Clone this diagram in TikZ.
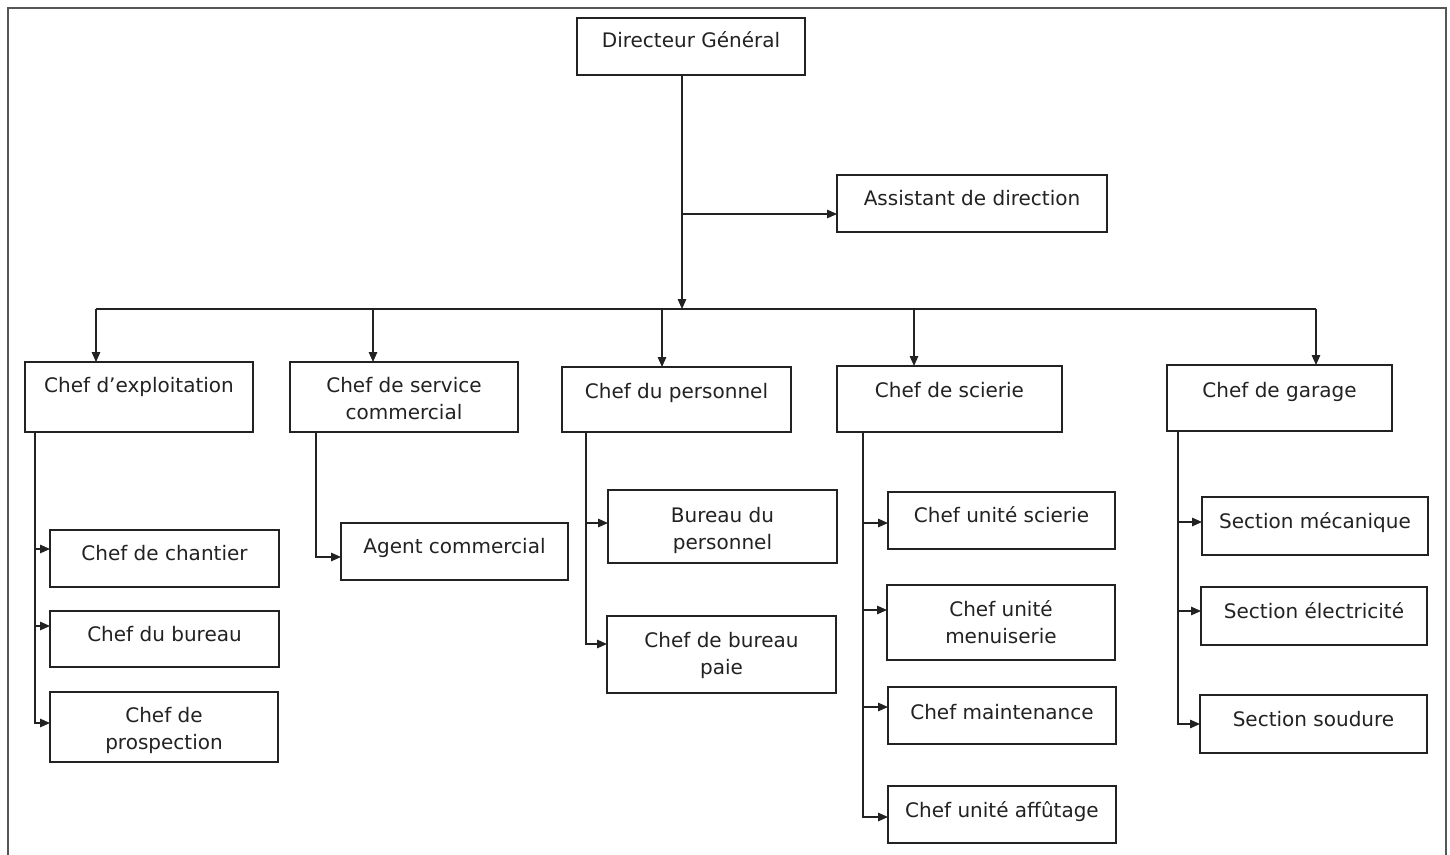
\documentclass[tikz,border=0pt]{standalone}
\usepackage{fontspec}
\setmainfont{DejaVu Sans}
\usetikzlibrary{arrows.meta}
\definecolor{ink}{HTML}{222222}
\definecolor{frame}{HTML}{555555}
\tikzset{
  box/.style={draw=ink, line width=1.5pt, inner sep=0pt, outer sep=0pt},
  txt/.style={text=ink, inner sep=0pt, font=\fontsize{20}{27}\selectfont},
  conn/.style={draw=ink, line width=1.4pt},
  arr/.style={conn, -{Triangle[length=10pt,width=8.5pt]}},
}
\newcommand\orgbox[7]{%
  \node[box, minimum width={(#4-#2)*1pt}, minimum height={(#5-#3)*1pt}] (#1) at ({(#2+#4)/2},{-(#3+#5)/2}) {};
  \node[txt, anchor=base] (#1-t) at ({(#2+#4)/2},{-#6}) {#7};
}
\newcommand\two[2]{\begin{tabular}[t]{@{}c@{}}#1\\#2\end{tabular}}
\begin{document}
\begin{tikzpicture}[x=1pt,y=1pt]
\useasboundingbox (0,0) rectangle (1450,-854);
\fill[white] (0,0) rectangle (1450,-854);
\draw[frame, line width=1.8pt] (8,-870) -- (8,-8) -- (1446,-8) -- (1446,-870);

\orgbox{dg}{577}{18}{805}{75}{47}{Directeur Général}
\orgbox{ad}{837}{175}{1107}{232}{205}{Assistant de direction}

\orgbox{ce}{25}{362}{253}{432}{392}{Chef d’exploitation}
\orgbox{csc}{290}{362}{518}{432}{392}{\two{Chef de service}{commercial}}
\orgbox{cp}{562}{367}{791}{432}{398}{Chef du personnel}
\orgbox{cs}{837}{366}{1062}{432}{397}{Chef de scierie}
\orgbox{cg}{1167}{365}{1392}{431}{397}{Chef de garage}

\orgbox{cc}{50}{530}{279}{587}{560}{Chef de chantier}
\orgbox{cb}{50}{611}{279}{667}{641}{Chef du bureau}
\orgbox{cpr}{50}{692}{278}{762}{722}{\two{Chef de}{prospection}}

\orgbox{ac}{341}{523}{568}{580}{553}{Agent commercial}

\orgbox{bp}{608}{490}{837}{563}{522}{\two{Bureau du}{personnel}}
\orgbox{bpa}{607}{616}{836}{693}{647}{\two{Chef de bureau}{paie}}

\orgbox{us}{888}{492}{1115}{549}{522}{Chef unité scierie}
\orgbox{um}{887}{585}{1115}{660}{616}{\two{Chef unité}{menuiserie}}
\orgbox{cm}{888}{687}{1116}{744}{719}{Chef maintenance}
\orgbox{ua}{888}{786}{1116}{843}{817}{Chef unité affûtage}

\orgbox{sm}{1202}{497}{1428}{555}{528}{Section mécanique}
\orgbox{se}{1201}{587}{1427}{645}{618}{Section électricité}
\orgbox{ss}{1200}{695}{1427}{753}{726}{Section soudure}

% main trunk
\coordinate (bus) at (682,-309);
\coordinate (ja) at (682,-214);
\draw[arr] (bus |- dg.south) -- (bus);
\draw[arr] (ja) -- (ja -| ad.west);

% horizontal bus and drops
\coordinate (d1) at (96,-309);
\coordinate (d2) at (373,-309);
\coordinate (d3) at (662,-309);
\coordinate (d4) at (914,-309);
\coordinate (d5) at (1316,-309);
\draw[conn] (d1) -- (d5);
\draw[arr] (d1) -- (d1 |- ce.north);
\draw[arr] (d2) -- (d2 |- csc.north);
\draw[arr] (d3) -- (d3 |- cp.north);
\draw[arr] (d4) -- (d4 |- cs.north);
\draw[arr] (d5) -- (d5 |- cg.north);

% branch trunks
\coordinate (b1) at (35,-432);
\coordinate (b2) at (316,-432);
\coordinate (b3) at (586,-432);
\coordinate (b4) at (863,-432);
\coordinate (b5) at (1178,-431);

\draw[arr] (b1) |- ([yshift=9.5pt]cc.west);
\draw[arr] (b1) |- ([yshift=13pt]cb.west);
\draw[arr] (b1) |- ([yshift=4pt]cpr.west);

\draw[arr] (b2) |- ([yshift=-5.5pt]ac.west);

\draw[arr] (b3) |- ([yshift=3.5pt]bp.west);
\draw[arr] (b3) |- ([yshift=10.5pt]bpa.west);

\draw[arr] (b4) |- ([yshift=-2.5pt]us.west);
\draw[arr] (b4) |- ([yshift=12.5pt]um.west);
\draw[arr] (b4) |- ([yshift=8.5pt]cm.west);
\draw[arr] (b4) |- ([yshift=-2.5pt]ua.west);

\draw[arr] (b5) |- ([yshift=4pt]sm.west);
\draw[arr] (b5) |- ([yshift=5pt]se.west);
\draw[arr] (b5) |- (ss.west);
\end{tikzpicture}
\end{document}
